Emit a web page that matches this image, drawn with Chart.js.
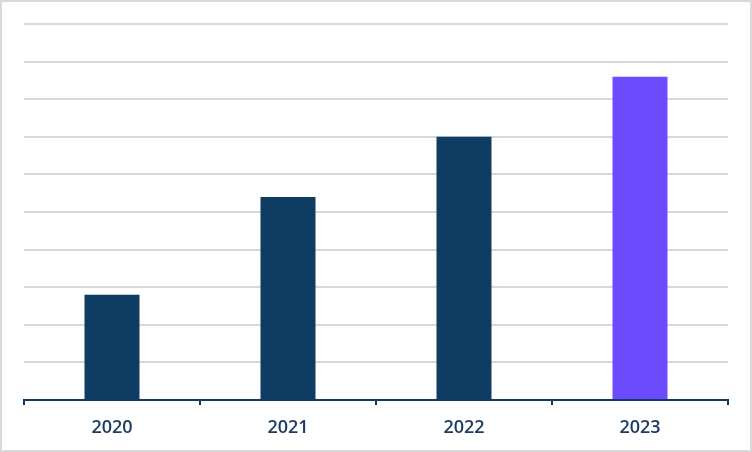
<!DOCTYPE html>
<html>
<head>
<meta charset="utf-8">
<script src="https://cdn.jsdelivr.net/npm/chart.js@4/dist/chart.umd.min.js"></script>
<style>
  html, body { margin:0; padding:0; background:#fff; }
  #box { width:748px; height:448px; border:2px solid #d9d9d9; position:relative; }
</style>
</head>
<body>
<div id="box"><canvas id="barChart"></canvas></div>
<script>
const years = ['2020', '2021', '2022', '2023'];
const values = [2.8, 5.4, 7.0, 8.6];
const barColors = ['#0e3c63', '#0e3c63', '#0e3c63', '#6c4bff'];

const ctx = document.getElementById('barChart').getContext('2d');
const chart = new Chart(ctx, {
  type: 'bar',
  data: { labels: years, datasets: [{ data: values, backgroundColor: barColors, barPercentage: 0.3125, categoryPercentage: 1 }] },
  options: {
    responsive: true, maintainAspectRatio: false, animation: false,
    layout: { padding: { left: 22, right: 22, top: 22, bottom: 0 } },
    plugins: { legend: { display: false }, tooltip: { enabled: false } },
    scales: {
      x: {
        afterFit: s => { s.height = 50; },
        grid: { display: true, drawOnChartArea: false, offset: true, tickLength: 5, color: '#0e3c63', lineWidth: 2 },
        border: { display: true, color: '#0e3c63', width: 2 },
        ticks: { color: '#1b3a5c', padding: 12, font: { family: 'Open Sans', size: 18, weight: '600' } }
      },
      y: {
        min: 0, max: 10,
        ticks: { display: false, stepSize: 1 },
        grid: { color: '#d9d9d9', lineWidth: 2, drawTicks: false },
        border: { display: false }
      }
    }
  }
});
</script>
</body>
</html>
